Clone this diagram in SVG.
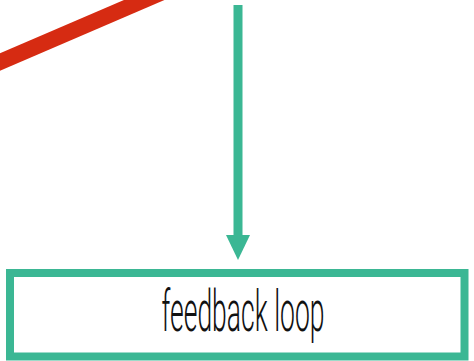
<svg xmlns="http://www.w3.org/2000/svg" width="474" height="361" viewBox="0 0 474 361">
<style>
.green{stroke:#3bb794;fill:none}
.label{font-family:Roboto,"Liberation Sans",sans-serif;font-weight:300;font-size:57px;fill:#111}
</style>
<rect width="474" height="361" fill="#fff"/>
<g id="connectors">
<line x1="-10" y1="66.3" x2="185" y2="-17.55" stroke="#d62b12" stroke-width="16"/>
<line class="green" x1="238" y1="5" x2="238" y2="238" stroke-width="9"/>
<polygon points="226,235 250,235 238,260" fill="#3bb794"/>
</g>
<g id="feedback-loop">
<rect class="green" x="10" y="273" width="454.5" height="83.5" stroke-width="8"/>
<text class="label" x="243" y="331" text-anchor="middle" textLength="163" lengthAdjust="spacingAndGlyphs">feedback loop</text>
</g>
</svg>
